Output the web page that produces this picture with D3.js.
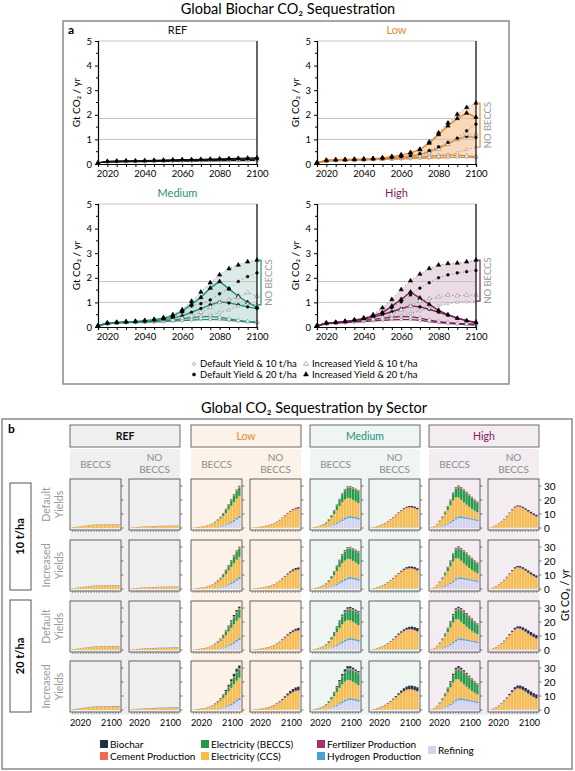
<!DOCTYPE html>
<html><head><meta charset="utf-8">
<script src="https://cdn.jsdelivr.net/npm/d3@7"></script>
<style>
body{margin:0;background:#fff;}
svg{display:block;font-family:Lato,"Open Sans","DejaVu Sans",sans-serif;}
</style></head><body>
<svg id="c" width="575" height="771"></svg>
<script>
// ---------------- DATA ----------------
const years = [2015,2020,2025,2030,2035,2040,2045,2050,2055,2060,2065,2070,2075,2080,2085,2090,2095,2100];
const refLines = [1.0, 1.85, 5.0];
const yTicksA = [0,1,2,3,4,5];
const xLabelsA = [2020,2040,2060,2080,2100];

// Part a – biochar sequestration (Gt CO2/yr)
const refD10 = [0.05,0.08,0.09,0.10,0.10,0.10,0.11,0.11,0.12,0.12,0.12,0.13,0.13,0.13,0.14,0.14,0.14,0.15];
const refI10 = [0.05,0.09,0.10,0.10,0.11,0.11,0.12,0.12,0.13,0.13,0.14,0.14,0.15,0.15,0.16,0.16,0.17,0.17];
const refD20 = [0.05,0.10,0.11,0.12,0.12,0.13,0.14,0.14,0.15,0.16,0.16,0.17,0.18,0.18,0.19,0.20,0.20,0.21];
const refI20 = [0.05,0.11,0.12,0.13,0.13,0.14,0.15,0.16,0.17,0.18,0.18,0.19,0.20,0.21,0.22,0.23,0.24,0.25];

const lowBeccsD10 = [0.05,0.12,0.14,0.15,0.16,0.17,0.18,0.19,0.20,0.21,0.22,0.23,0.24,0.25,0.26,0.27,0.27,0.26];
const lowBeccsI10 = [0.05,0.13,0.15,0.16,0.17,0.18,0.19,0.20,0.22,0.24,0.26,0.29,0.32,0.35,0.36,0.36,0.34,0.30];
const lowBeccsD20 = [0.05,0.14,0.16,0.17,0.18,0.19,0.20,0.22,0.25,0.28,0.32,0.38,0.50,0.65,0.82,1.00,1.12,1.08];
const lowBeccsI20 = [0.05,0.15,0.17,0.18,0.19,0.20,0.22,0.25,0.30,0.36,0.45,0.58,0.85,1.20,1.55,1.85,2.07,1.90];
const lowNobD10 = [0.05,0.12,0.14,0.15,0.16,0.17,0.18,0.19,0.20,0.21,0.22,0.24,0.27,0.30,0.36,0.45,0.58,0.68];
const lowNobI10 = [0.05,0.13,0.15,0.16,0.17,0.18,0.19,0.20,0.22,0.24,0.27,0.33,0.45,0.60,0.80,1.00,1.20,1.22];
const lowNobD20 = [0.05,0.14,0.16,0.17,0.18,0.19,0.20,0.22,0.25,0.28,0.33,0.42,0.55,0.70,0.88,1.05,1.35,1.62];
const lowNobI20 = [0.05,0.15,0.17,0.18,0.19,0.20,0.22,0.25,0.30,0.37,0.47,0.60,0.90,1.27,1.67,2.02,2.30,2.48];

const medBeccsD10 = [0.05,0.13,0.16,0.18,0.19,0.20,0.21,0.22,0.24,0.26,0.28,0.30,0.30,0.30,0.27,0.24,0.20,0.18];
const medBeccsI10 = [0.05,0.14,0.17,0.19,0.20,0.21,0.23,0.25,0.28,0.33,0.38,0.42,0.42,0.40,0.33,0.27,0.22,0.20];
const medBeccsD20 = [0.05,0.15,0.18,0.20,0.21,0.23,0.26,0.30,0.36,0.45,0.60,0.75,0.90,1.02,0.98,0.90,0.82,0.75];
const medBeccsI20 = [0.05,0.16,0.19,0.21,0.23,0.26,0.30,0.36,0.45,0.65,0.92,1.20,1.58,1.85,1.55,1.25,1.00,0.80];
const medNobD10 = [0.05,0.13,0.16,0.18,0.19,0.20,0.21,0.22,0.24,0.26,0.29,0.35,0.48,0.58,0.68,0.85,0.95,0.90];
const medNobI10 = [0.05,0.14,0.17,0.19,0.20,0.21,0.23,0.25,0.29,0.35,0.45,0.60,0.80,1.00,1.10,1.20,1.40,1.25];
const medNobD20 = [0.05,0.15,0.18,0.20,0.21,0.23,0.26,0.31,0.40,0.60,0.85,0.95,1.10,1.35,1.55,1.85,2.05,2.20];
const medNobI20 = [0.05,0.16,0.19,0.21,0.23,0.26,0.31,0.38,0.50,0.70,1.05,1.42,1.80,2.12,2.37,2.52,2.65,2.72];

const highBeccsD10 = [0.05,0.13,0.16,0.18,0.20,0.22,0.25,0.27,0.29,0.30,0.30,0.27,0.22,0.18,0.15,0.12,0.10,0.08];
const highBeccsI10 = [0.05,0.14,0.17,0.20,0.23,0.27,0.31,0.35,0.40,0.42,0.42,0.36,0.28,0.22,0.17,0.14,0.12,0.10];
const highBeccsD20 = [0.05,0.15,0.18,0.21,0.26,0.32,0.40,0.50,0.62,0.75,0.86,0.82,0.72,0.60,0.48,0.36,0.26,0.16];
const highBeccsI20 = [0.05,0.16,0.19,0.23,0.28,0.35,0.45,0.58,0.85,1.12,1.42,1.18,0.92,0.68,0.50,0.36,0.26,0.20];
const highNobD10 = [0.05,0.13,0.16,0.18,0.20,0.22,0.25,0.30,0.36,0.45,0.55,0.65,0.75,0.85,0.95,1.00,1.02,1.05];
const highNobI10 = [0.05,0.14,0.17,0.20,0.23,0.27,0.32,0.38,0.50,0.70,0.85,1.05,1.15,1.22,1.30,1.27,1.30,1.30];
const highNobD20 = [0.05,0.15,0.18,0.21,0.26,0.33,0.45,0.60,0.78,1.02,1.30,1.58,1.80,2.00,2.12,2.20,2.25,2.30];
const highNobI20 = [0.05,0.16,0.19,0.23,0.29,0.37,0.50,0.78,1.12,1.52,1.88,2.15,2.38,2.52,2.58,2.60,2.65,2.72];

// Part b – sector sequestration (Gt CO2/yr), biochar taken from part a series
const refBeccsSectors = {
  refining:  [0,0,0,0,0,0,0,0,0,0,0,0,0,0,0,0,0,0],
  hydrogen:  [0,0,0,0,0,0,0,0,0,0,0,0,0,0,0,0,0,0],
  ccs:       [0.3,0.5,0.8,1.0,1.3,1.5,1.8,2.0,2.1,2.2,2.2,2.3,2.3,2.3,2.3,2.3,2.3,2.3],
  beccs:     [0,0,0,0,0,0,0,0,0,0,0,0,0,0,0,0,0,0],
  fertilizer:[0,0,0,0,0,0,0,0,0,0,0,0,0,0,0,0,0,0],
  cement:    [0.1,0.1,0.1,0.1,0.1,0.1,0.1,0.1,0.1,0.1,0.1,0.1,0.1,0.1,0.1,0.1,0.1,0.1]
};
const refNobSectors = {
  refining:  [0,0,0,0,0,0,0,0,0,0,0,0,0,0,0,0,0,0],
  hydrogen:  [0,0,0,0,0,0,0,0,0,0,0,0,0,0,0,0,0,0],
  ccs:       [0.2,0.3,0.5,0.6,0.8,0.9,1.0,1.1,1.2,1.2,1.3,1.3,1.3,1.3,1.3,1.4,1.4,1.4],
  beccs:     [0,0,0,0,0,0,0,0,0,0,0,0,0,0,0,0,0,0],
  fertilizer:[0,0,0,0,0,0,0,0,0,0,0,0,0,0,0,0,0,0],
  cement:    [0.1,0.1,0.1,0.1,0.1,0.1,0.1,0.1,0.1,0.1,0.1,0.1,0.1,0.1,0.1,0.1,0.1,0.1]
};
const lowBeccsSectors = {
  refining:  [0,0,0,0,0,0.1,0.1,0.2,0.3,0.5,0.8,1.2,1.8,2.6,3.5,4.6,6.0,7.2],
  hydrogen:  [0,0,0,0,0,0,0.1,0.1,0.2,0.3,0.4,0.5,0.6,0.8,1.0,1.2,1.4,1.5],
  ccs:       [0.2,0.4,0.5,0.7,1.0,1.3,1.7,2.4,3.3,4.3,5.4,6.8,8.3,9.8,11.3,12.6,13.5,14.3],
  beccs:     [0,0,0,0,0,0,0,0.1,0.2,0.4,0.8,1.5,2.2,3.0,3.9,4.8,5.6,6.0],
  fertilizer:[0,0,0,0,0,0,0,0,0.05,0.05,0.05,0.1,0.1,0.1,0.1,0.1,0.1,0.1],
  cement:    [0,0,0.1,0.1,0.1,0.1,0.2,0.2,0.3,0.3,0.4,0.4,0.5,0.5,0.6,0.7,0.8,0.8]
};
const lowNobSectors = {
  refining:  [0,0,0,0,0,0.05,0.05,0.1,0.1,0.15,0.2,0.2,0.25,0.3,0.3,0.35,0.35,0.4],
  hydrogen:  [0,0,0,0,0,0,0,0,0.05,0.05,0.05,0.1,0.1,0.1,0.1,0.1,0.1,0.1],
  ccs:       [0.2,0.25,0.45,0.6,0.9,1.25,1.7,2.25,2.95,3.9,5.1,6.6,8.2,9.7,11.05,12.05,12.8,13.1],
  beccs:     [0,0,0,0,0,0,0,0,0,0,0,0,0,0,0,0,0,0],
  fertilizer:[0,0,0,0,0,0,0,0,0,0,0,0,0,0,0,0,0,0],
  cement:    [0,0.05,0.05,0.1,0.1,0.1,0.15,0.15,0.2,0.2,0.25,0.3,0.35,0.4,0.45,0.5,0.55,0.6]
};
const medBeccsSectors = {
  refining:  [0,0.05,0.1,0.2,0.3,0.5,0.8,1.3,2.0,2.9,3.9,5.0,6.0,6.8,7.2,7.0,6.6,6.0],
  hydrogen:  [0,0,0,0.05,0.1,0.15,0.25,0.4,0.6,0.8,1.0,1.2,1.3,1.4,1.4,1.3,1.3,1.2],
  ccs:       [0.25,0.45,0.8,1.2,1.8,2.6,4.0,5.7,7.4,9.2,10.75,12.2,13.05,13.3,12.65,11.85,11.05,10.55],
  beccs:     [0,0,0,0,0.1,0.3,0.6,1.2,2.0,3.0,4.2,5.4,6.4,7.2,7.7,8.0,8.2,8.4],
  fertilizer:[0,0,0,0,0,0,0.05,0.05,0.1,0.1,0.1,0.1,0.1,0.1,0.1,0.1,0.1,0.1],
  cement:    [0.05,0.1,0.1,0.15,0.2,0.25,0.3,0.35,0.4,0.5,0.55,0.6,0.65,0.7,0.75,0.75,0.75,0.75]
};
const medNobSectors = {
  refining:  [0,0,0.05,0.05,0.1,0.1,0.15,0.2,0.2,0.25,0.3,0.3,0.35,0.35,0.35,0.35,0.35,0.35],
  hydrogen:  [0,0,0,0,0,0.05,0.05,0.05,0.1,0.1,0.1,0.1,0.1,0.1,0.1,0.1,0.1,0.1],
  ccs:       [0.15,0.45,0.85,1.4,2.1,3.0,4.1,5.4,6.9,8.4,10.0,11.5,12.7,13.6,14.0,13.9,13.3,12.55],
  beccs:     [0,0,0,0,0,0,0,0,0,0,0,0,0,0,0,0,0,0],
  fertilizer:[0,0,0,0,0,0,0,0,0,0,0,0,0,0,0,0,0,0],
  cement:    [0.05,0.05,0.1,0.15,0.2,0.25,0.3,0.35,0.4,0.45,0.5,0.5,0.55,0.55,0.55,0.55,0.55,0.5]
};
const highBeccsSectors = {
  refining:  [0,0.1,0.3,0.6,1.0,1.6,2.4,3.5,4.8,6.2,7.0,7.0,6.8,6.5,6.2,5.8,5.4,5.0],
  hydrogen:  [0,0.05,0.1,0.2,0.3,0.45,0.6,0.8,1.0,1.3,1.4,1.4,1.3,1.2,1.1,1.0,1.0,0.9],
  ccs:       [0.45,1.05,2.15,3.65,5.65,7.75,9.75,11.8,13.8,14.5,13.45,11.75,10.25,8.95,7.8,6.8,5.9,5.35],
  beccs:     [0,0,0.1,0.3,0.7,1.3,2.2,3.3,4.7,6.2,7.3,8.0,8.3,8.3,8.1,7.8,7.4,7.0],
  fertilizer:[0,0,0,0.05,0.05,0.05,0.1,0.1,0.1,0.1,0.1,0.1,0.1,0.1,0.1,0.1,0.1,0.1],
  cement:    [0.05,0.1,0.15,0.2,0.3,0.35,0.45,0.5,0.6,0.7,0.75,0.75,0.75,0.75,0.7,0.7,0.7,0.65]
};
const highNobSectors = {
  refining:  [0,0,0.05,0.1,0.1,0.15,0.2,0.2,0.25,0.3,0.3,0.3,0.3,0.3,0.3,0.3,0.3,0.3],
  hydrogen:  [0,0,0,0,0.05,0.05,0.1,0.1,0.1,0.1,0.1,0.1,0.1,0.1,0.1,0.1,0.1,0.1],
  ccs:       [0.25,0.8,1.6,2.7,4.1,5.8,7.75,10.0,12.2,13.9,14.7,14.4,13.5,12.3,11.0,9.7,8.55,7.55],
  beccs:     [0,0,0,0,0,0,0,0,0,0,0,0,0,0,0,0,0,0],
  fertilizer:[0,0,0,0,0,0,0,0,0,0,0,0,0,0,0,0,0,0],
  cement:    [0.05,0.1,0.15,0.2,0.25,0.3,0.35,0.4,0.45,0.5,0.5,0.5,0.5,0.5,0.5,0.5,0.45,0.45]
};
const yTicksB = [0,10,20,30];
const sectorKeys = ['refining','hydrogen','ccs','beccs','fertilizer','cement','biochar'];
const sectorNames = {biochar:'Biochar',cement:'Cement Production',beccs:'Electricity (BECCS)',ccs:'Electricity (CCS)',fertilizer:'Fertilizer Production',hydrogen:'Hydrogen Production',refining:'Refining'};
const sectorColors = {biochar:'#1f2f45',cement:'#ef6a50',beccs:'#24994a',ccs:'#f7ba4c',fertilizer:'#a3326c',hydrogen:'#46a2d8',refining:'#d4d3ee'};
const rowKinds = ['d10','i10','d20','i20'];
const legendA = [
  {kind:'d10',label:'Default Yield & 10 t/ha'},
  {kind:'d20',label:'Default Yield & 20 t/ha'},
  {kind:'i10',label:'Increased Yield & 10 t/ha'},
  {kind:'i20',label:'Increased Yield & 20 t/ha'}
];

// ---------------- DRAW ----------------
const svg = d3.select('#c');
const FONT = 'Lato,"Open Sans","DejaVu Sans",sans-serif';

function drawMarker(g, kind, cx, cy, big){
  const filled = kind==='d20'||kind==='i20';
  const tri = kind==='i10'||kind==='i20';
  const s = big?1.3:1;
  const sym = d3.symbol().type(tri?d3.symbolTriangle:d3.symbolCircle).size((tri?8:5.5)*s);
  g.append('path').attr('d',sym()).attr('transform',`translate(${cx},${cy})`)
    .attr('fill',filled?'#000':'#fff').attr('stroke',filled?'#000':'#8a8a8a').attr('stroke-width',0.6);
}

// ---- Part a ----
svg.append('text').attr('x',288).attr('y',14).attr('text-anchor','middle').attr('font-size',14.5).text('Global Biochar CO₂ Sequestration');
svg.append('rect').attr('x',63).attr('y',21).attr('width',446).attr('height',363).attr('fill','none').attr('stroke','#8a8a8a').attr('stroke-width',1.5);
svg.append('text').attr('x',68).attr('y',34).attr('font-size',12).attr('font-weight','bold').text('a');

const WA=159, HA=123;
const panelsA = [
  {title:'REF', color:'#111', fill:null, x:98, y:41, beccs:[refD10,refI10,refD20,refI20], nob:null},
  {title:'Low', color:'#e8892c', fill:'#f9d3b0', x:317, y:41, beccs:[lowBeccsD10,lowBeccsI10,lowBeccsD20,lowBeccsI20], nob:[lowNobD10,lowNobI10,lowNobD20,lowNobI20]},
  {title:'Medium', color:'#1f8f7b', fill:'#c4ded8', x:98, y:204, beccs:[medBeccsD10,medBeccsI10,medBeccsD20,medBeccsI20], nob:[medNobD10,medNobI10,medNobD20,medNobI20]},
  {title:'High', color:'#7d1d5c', fill:'#dcc3d2', x:317, y:204, beccs:[highBeccsD10,highBeccsI10,highBeccsD20,highBeccsI20], nob:[highNobD10,highNobI10,highNobD20,highNobI20]}
];

panelsA.forEach(p=>{
  const x = d3.scaleLinear().domain([2015,2100]).range([p.x,p.x+WA]);
  const y = d3.scaleLinear().domain([0,5]).range([p.y+HA,p.y]);
  const g = svg.append('g');
  g.append('text').attr('x',p.x+WA/2).attr('y',p.y-7).attr('text-anchor','middle').attr('font-size',11).attr('fill',p.color).text(p.title);
  // bands
  const bandArea = (set)=> d3.area().x((d,i)=>x(years[i])).y0((d,i)=>y(d3.min(set,s=>s[i]))).y1((d,i)=>y(d3.max(set,s=>s[i])));
  if(p.nob){
    g.append('path').attr('d',bandArea(p.nob)(years)).attr('fill',p.fill).attr('opacity',0.6);
    g.append('path').attr('d',bandArea(p.beccs)(years)).attr('fill',p.fill).attr('opacity',0.7);
  }
  // grid lines
  refLines.forEach(v=>{
    g.append('line').attr('x1',p.x).attr('x2',p.x+WA).attr('y1',y(v)).attr('y2',y(v)).attr('stroke','#c4c4c4').attr('stroke-width',1);
  });
  const line = d3.line().x((d,i)=>x(years[i])).y(d=>y(d));
  if(p.nob){
    p.nob.forEach(s=>{
      g.append('path').attr('d',line(s)).attr('fill','none').attr('stroke','#777').attr('stroke-width',0.9).attr('stroke-dasharray','1,2.6');
    });
  }
  p.beccs.forEach(s=>{
    g.append('path').attr('d',line(s)).attr('fill','none').attr('stroke',p.color).attr('stroke-width',p.nob?1.4:1.2);
  });
  // markers
  const sets = p.nob ? [p.beccs,p.nob] : [p.beccs];
  sets.forEach(set=>set.forEach((s,k)=>{
    s.forEach((v,i)=>drawMarker(g,rowKinds[k],x(years[i]),y(v)));
  }));
  // axes
  const ax = d3.axisBottom(x).tickValues(d3.range(2015,2101,5)).tickSize(3).tickFormat(d=>xLabelsA.includes(d)?d:'');
  const gx = g.append('g').attr('transform',`translate(0,${p.y+HA})`).call(ax);
  gx.selectAll('text').attr('font-size',9.5).attr('font-family',FONT).attr('fill','#000');
  gx.selectAll('line').attr('stroke','#000');
  gx.select('.domain').attr('stroke','#000').attr('stroke-width',1.2);
  const ay = d3.axisLeft(y).tickValues(yTicksA).tickSize(3).tickFormat(d3.format('d'));
  const gy = g.append('g').attr('transform',`translate(${p.x},0)`).call(ay);
  gy.selectAll('text').attr('font-size',9.5).attr('font-family',FONT).attr('fill','#000');
  gy.select('.domain').attr('stroke','#000').attr('stroke-width',1.2);
  [0.5,1.5,2.5,3.5,4.5].forEach(v=>g.append('line').attr('x1',p.x-2).attr('x2',p.x).attr('y1',y(v)).attr('y2',y(v)).attr('stroke','#000'));
  g.append('line').attr('x1',p.x+WA).attr('x2',p.x+WA).attr('y1',y(0)).attr('y2',y(5)).attr('stroke','#000').attr('stroke-width',1.2);
  g.append('text').attr('transform',`translate(${p.x-18},${p.y+HA/2}) rotate(-90)`).attr('text-anchor','middle').attr('font-size',10).text('Gt CO₂ / yr');
  // NO BECCS bracket
  if(p.nob){
    const last = years.length-1;
    const lo = d3.min(p.nob,s=>s[last]), hi = d3.max(p.nob,s=>s[last]);
    const bx = p.x+WA+4;
    g.append('path').attr('d',`M${bx-3},${y(hi)}H${bx}V${y(lo)}H${bx-3}`).attr('fill','none').attr('stroke',p.color).attr('stroke-width',1.2);
    g.append('text').attr('transform',`translate(${bx+8},${(y(hi)+y(lo))/2}) rotate(-90)`).attr('text-anchor','middle').attr('dy','0.35em').attr('font-size',9.5).attr('fill','#999').text('NO BECCS');
  }
});

// legend a
legendA.forEach((l,i)=>{
  const col = i<2?0:1, row = i%2;
  const lx = col===0?194:306, ly = 364+row*10.5;
  drawMarker(svg,l.kind,lx,ly,true);
  svg.append('text').attr('x',lx+6).attr('y',ly).attr('dy','0.35em').attr('font-size',9.5).text(l.label);
});

// ---- Part b ----
svg.append('text').attr('x',314).attr('y',413).attr('text-anchor','middle').attr('font-size',14.5).text('Global CO₂ Sequestration by Sector');
svg.append('rect').attr('x',2).attr('y',419).attr('width',570).attr('height',350).attr('fill','none').attr('stroke','#8a8a8a').attr('stroke-width',1.5);
svg.append('text').attr('x',8).attr('y',433).attr('font-size',12).attr('font-weight','bold').text('b');

const groupX = [70,191,310,429];
const PW=51, PH=51, PGAP=8;
const rowY = [479,540,601,661];
const refBio = {d10:refD10,i10:refI10,d20:refD20,i20:refI20};
const groupsB = [
  {title:'REF', color:'#111', bold:true, bg:'#efefef', cols:[{lab:['BECCS'],sec:refBeccsSectors,bio:refBio},{lab:['NO','BECCS'],sec:refNobSectors,bio:refBio}]},
  {title:'Low', color:'#e8892c', bg:'#fdf2e8', cols:[{lab:['BECCS'],sec:lowBeccsSectors,bio:{d10:lowBeccsD10,i10:lowBeccsI10,d20:lowBeccsD20,i20:lowBeccsI20}},{lab:['NO','BECCS'],sec:lowNobSectors,bio:{d10:lowNobD10,i10:lowNobI10,d20:lowNobD20,i20:lowNobI20}}]},
  {title:'Medium', color:'#1f8f7b', bg:'#eef5f2', cols:[{lab:['BECCS'],sec:medBeccsSectors,bio:{d10:medBeccsD10,i10:medBeccsI10,d20:medBeccsD20,i20:medBeccsI20}},{lab:['NO','BECCS'],sec:medNobSectors,bio:{d10:medNobD10,i10:medNobI10,d20:medNobD20,i20:medNobI20}}]},
  {title:'High', color:'#7d1d5c', bg:'#f3ecf1', cols:[{lab:['BECCS'],sec:highBeccsSectors,bio:{d10:highBeccsD10,i10:highBeccsI10,d20:highBeccsD20,i20:highBeccsI20}},{lab:['NO','BECCS'],sec:highNobSectors,bio:{d10:highNobD10,i10:highNobI10,d20:highNobD20,i20:highNobI20}}]}
];

groupsB.forEach((gr,gi)=>{
  const gx0 = groupX[gi];
  const GW = PW*2+PGAP;
  svg.append('rect').attr('x',gx0).attr('y',425).attr('width',GW).attr('height',22).attr('fill',gr.bg).attr('stroke','#6a6a6a').attr('stroke-width',1);
  svg.append('text').attr('x',gx0+GW/2).attr('y',436).attr('dy','0.35em').attr('text-anchor','middle').attr('font-size',10.5)
    .attr('font-weight',gr.bold?'bold':'normal').attr('fill',gr.color).text(gr.title);
  svg.append('rect').attr('x',gx0).attr('y',449).attr('width',GW).attr('height',266).attr('fill',gr.bg);
  gr.cols.forEach((c,ci)=>{
    const px = gx0 + ci*(PW+PGAP);
    const cx = px+PW/2;
    if(c.lab.length===1){
      svg.append('text').attr('x',cx).attr('y',464).attr('dy','0.35em').attr('text-anchor','middle').attr('font-size',10).attr('fill','#8c8c8c').text(c.lab[0]);
    } else {
      c.lab.forEach((t,ti)=>svg.append('text').attr('x',cx).attr('y',457+ti*12).attr('dy','0.35em').attr('text-anchor','middle').attr('font-size',10).attr('fill','#8c8c8c').text(t));
    }
    rowKinds.forEach((kind,ri)=>{
      const top = rowY[ri];
      const g = svg.append('g');
      g.append('rect').attr('x',px).attr('y',top).attr('width',PW).attr('height',PH).attr('fill',gr.bg);
      const y = d3.scaleLinear().domain([0,35]).range([top+PH-2, top+PH-51]);
      const x = d3.scaleBand().domain(years).range([px+1.5,px+PW-1.5]).paddingInner(0.14);
      const rows = years.map((yr,i)=>{
        const o = {year:yr};
        sectorKeys.forEach(k=>{ o[k] = k==='biochar' ? c.bio[kind][i] : c.sec[k][i]; });
        return o;
      });
      const stacked = d3.stack().keys(sectorKeys)(rows);
      stacked.forEach(layer=>{
        g.append('g').selectAll('rect').data(layer).join('rect')
          .attr('x',d=>x(d.data.year)).attr('width',x.bandwidth())
          .attr('y',d=>y(d[1])).attr('height',d=>Math.max(0,y(d[0])-y(d[1])))
          .attr('fill',sectorColors[layer.key]);
      });
      g.append('rect').attr('x',px).attr('y',top).attr('width',PW).attr('height',PH).attr('fill','none').attr('stroke','#555').attr('stroke-width',0.9);
      // right ticks
      yTicksB.forEach(v=>g.append('line').attr('x1',px+PW).attr('x2',px+PW+2.5).attr('y1',y(v)).attr('y2',y(v)).attr('stroke','#555').attr('stroke-width',0.8));
      // bottom ticks
      years.forEach(yr=>g.append('line').attr('x1',x(yr)+x.bandwidth()/2).attr('x2',x(yr)+x.bandwidth()/2).attr('y1',top+PH).attr('y2',top+PH+2).attr('stroke','#555').attr('stroke-width',0.6));
      if(gi===3 && ci===1){
        yTicksB.forEach(v=>g.append('text').attr('x',px+PW+5).attr('y',y(v)).attr('dy','0.35em').attr('font-size',10).text(v));
      }
      if(ri===3){
        g.append('text').attr('x',px).attr('y',top+PH+11).attr('dy','0.35em').attr('font-size',9).text('2020');
        g.append('text').attr('x',px+PW+1).attr('y',top+PH+11).attr('dy','0.35em').attr('text-anchor','end').attr('font-size',9).text('2100');
      }
    });
  });
});

// right axis title
svg.append('text').attr('transform','translate(565,595) rotate(-90)').attr('text-anchor','middle').attr('dy','0.35em').attr('font-size',10.5).text('Gt CO₂ / yr');

// row labels
[{t:'10 t/ha',y0:483,y1:590},{t:'20 t/ha',y0:600,y1:712}].forEach(r=>{
  svg.append('rect').attr('x',10).attr('y',r.y0).attr('width',21).attr('height',r.y1-r.y0).attr('fill','#fff').attr('stroke','#555').attr('stroke-width',1);
  svg.append('text').attr('transform',`translate(20.5,${(r.y0+r.y1)/2}) rotate(-90)`).attr('text-anchor','middle').attr('dy','0.35em').attr('font-size',11).attr('font-weight','bold').text(r.t);
});
rowKinds.forEach((k,ri)=>{
  const lines = (k==='d10'||k==='d20')?['Default','Yields']:['Increased','Yields'];
  const cy = rowY[ri]+PH/2;
  lines.forEach((t,ti)=>svg.append('text').attr('transform',`translate(${46+ti*13},${cy}) rotate(-90)`).attr('text-anchor','middle').attr('dy','0.35em').attr('font-size',10.5).attr('fill','#999').text(t));
});

// legend b
const legB = [
  {k:'biochar',x:100,y:744},{k:'cement',x:100,y:756},
  {k:'beccs',x:201,y:744},{k:'ccs',x:201,y:756},
  {k:'fertilizer',x:317,y:744},{k:'hydrogen',x:317,y:756},
  {k:'refining',x:428,y:750}
];
legB.forEach(l=>{
  svg.append('rect').attr('x',l.x).attr('y',l.y-4).attr('width',8).attr('height',8).attr('fill',sectorColors[l.k]);
  svg.append('text').attr('x',l.x+10).attr('y',l.y).attr('dy','0.35em').attr('font-size',10).text(sectorNames[l.k]);
});
</script>
</body></html>
